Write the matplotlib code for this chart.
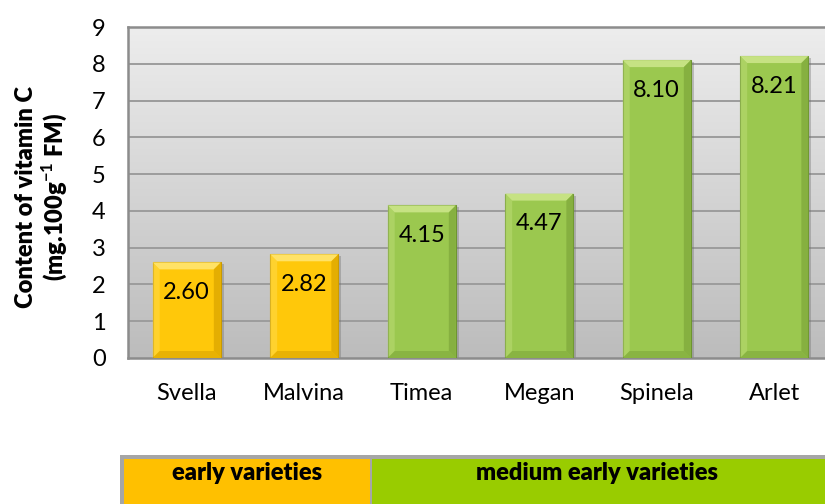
import matplotlib.pyplot as plt
from matplotlib.patches import Polygon, Rectangle
from matplotlib.colors import LinearSegmentedColormap
import numpy as np

varieties = ["Svella", "Malvina", "Timea", "Megan", "Spinela", "Arlet"]
vitamin_c = [2.60, 2.82, 4.15, 4.47, 8.10, 8.21]
groups = ["early", "early", "medium", "medium", "medium", "medium"]
group_labels = ["early varieties", "medium early varieties"]
y_ticks = list(range(0, 10))

FONT = "Lato"
plt.rcParams["mathtext.fontset"] = "custom"
plt.rcParams["mathtext.rm"] = FONT
plt.rcParams["mathtext.bf"] = FONT + ":bold"
plt.rcParams["axes.unicode_minus"] = False

W, H = 825, 504
fig = plt.figure(figsize=(W / 100, H / 100), dpi=100)

# plot area (runs slightly off the right edge)
ax = fig.add_axes([128 / W, 146 / H, 705 / W, 331 / H])
ax.set_xlim(-0.5, len(varieties) - 0.5)
ax.set_ylim(0, 9)

# grey gradient background
grad = np.linspace(0, 1, 256).reshape(-1, 1)
ax.imshow(grad, extent=[0, 1, 0, 1], transform=ax.transAxes, aspect="auto",
          cmap=LinearSegmentedColormap.from_list("bg", ["#bcbcbc", "#ededed"]),
          origin="lower", zorder=0)

for y in y_ticks[1:]:
    ax.axhline(y, color="#9c9c9c", lw=1.4, zorder=1)

for s in ax.spines.values():
    s.set_color("#8c8c8c")
    s.set_linewidth(1.8)

colors = {"early": ("#ffc80a", "#ffe266", "#d9a400", "#c99a00"),
          "medium": ("#9bc84f", "#c6e283", "#7ea73a", "#6e9530")}

bw = 0.58
px_x = 1 / 117.5
px_y = 9 / 331
bev = 7
for i, (v, g) in enumerate(zip(vitamin_c, groups)):
    base, light, dark, edge = colors[g]
    x0, x1 = i - bw / 2, i + bw / 2
    # soft shadow
    ax.add_patch(Rectangle((x0 + 3 * px_x, 0), bw, v - 2 * px_y, color="#6a6a6a",
                           alpha=0.35, lw=0, zorder=2))
    ax.bar(i, v, width=bw, color=base, edgecolor=edge, linewidth=0.8, zorder=3)
    bx, by = bev * px_x, bev * px_y
    # bevel facets
    ax.add_patch(Polygon([(x0, v), (x1, v), (x1 - bx, v - by), (x0 + bx, v - by)],
                         closed=True, color=light, lw=0, zorder=4))
    ax.add_patch(Polygon([(x0, v), (x0 + bx, v - by), (x0 + bx, by), (x0, 0)],
                         closed=True, color=light, alpha=0.4, lw=0, zorder=4))
    ax.add_patch(Polygon([(x1, v), (x1 - bx, v - by), (x1 - bx, by), (x1, 0)],
                         closed=True, color=dark, alpha=0.7, lw=0, zorder=4))
    ax.add_patch(Polygon([(x0, 0), (x1, 0), (x1 - bx, by), (x0 + bx, by)],
                         closed=True, color=dark, alpha=0.6, lw=0, zorder=4))
    ax.text(i, v - 30 * px_y, f"{v:.2f}", ha="center", va="center", fontsize=17,
            family=FONT, color="black", zorder=5)

ax.set_xticks(range(len(varieties)))
ax.set_xticklabels(varieties, family=FONT, fontsize=17)
ax.set_yticks(y_ticks)
ax.set_yticklabels([str(t) for t in y_ticks], family=FONT, fontsize=17)
ax.tick_params(axis="x", length=0, pad=18)
ax.tick_params(axis="y", length=0, pad=16)

fig.text(42 / W, 1 - 197 / H,
         "Content of vitamin C\n(mg.100g$^{\\mathbf{-1}}$ FM)",
         rotation=90, ha="center", va="center", fontsize=17, fontweight="heavy",
         family=FONT, linespacing=1.1)

# group band under the chart
band = fig.add_axes([120 / W, 0, 1 - 120 / W, 49 / H])
band.set_xlim(0, 1)
band.set_ylim(0, 1)
band.axis("off")
band.add_patch(Rectangle((0, 0), 1, 1, color="#a6a6a6", lw=0))
bwid = W - 120
split = (370 - 120) / bwid
lx = 4 / bwid
band.add_patch(Rectangle((lx, 0), split - lx, 1 - 4 / 49, color="#ffc000", lw=0))
band.add_patch(Rectangle((split + 2 / bwid, 0), 1, 1 - 4 / 49, color="#99cc00", lw=0))
band.text((lx + split) / 2, 0.63, group_labels[0], ha="center", va="center",
          fontsize=17, fontweight="heavy", family=FONT)
band.text((split + 1) / 2, 0.63, group_labels[1], ha="center", va="center",
          fontsize=17, fontweight="heavy", family=FONT)

fig.savefig("out.png", dpi=100)
